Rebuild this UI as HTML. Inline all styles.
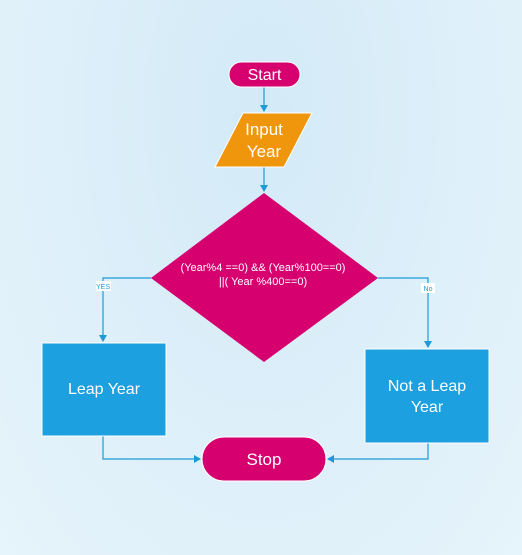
<!DOCTYPE html>
<html><head><meta charset="utf-8"><style>
html,body{margin:0;padding:0;}
body{width:522px;height:555px;overflow:hidden;background:radial-gradient(ellipse at 50% 20%,#d3eaf7 0%,#ddeff9 50%,#e6f4fb 100%);}
svg{display:block}
text{font-family:"Liberation Sans","DejaVu Sans",sans-serif;fill:#fff}
</style></head><body>
<svg width="522" height="555" viewBox="0 0 522 555">
<defs><marker id="a" markerWidth="8" markerHeight="8" refX="6" refY="4" orient="auto" markerUnits="userSpaceOnUse"><path d="M0,0 L7,4 L0,8 z" fill="#1e9bd7"/></marker></defs>
<g stroke="#1e9bd7" stroke-width="1.2" fill="none">
<line x1="264" y1="87" x2="264" y2="111" marker-end="url(#a)"/>
<line x1="264" y1="167" x2="264" y2="191" marker-end="url(#a)"/>
<polyline points="151,278 103,278 103,341" marker-end="url(#a)"/>
<polyline points="378,278 428,278 428,347" marker-end="url(#a)"/>
<polyline points="103,436 103,459 200,459" marker-end="url(#a)"/>
<polyline points="428,443 428,459 328,459" marker-end="url(#a)"/>
</g>
<rect x="96" y="281" width="15" height="10" fill="#fff"/>
<text x="103" y="289" font-size="7" text-anchor="middle" style="fill:#1e9bd7">YES</text>
<rect x="421" y="283" width="14" height="10" fill="#fff"/>
<text x="428" y="291" font-size="7" text-anchor="middle" style="fill:#1e9bd7">No</text>
<rect x="229" y="62" width="71" height="25" rx="12.5" fill="#d6006f" stroke="#fff" stroke-width="1"/>
<text x="264.5" y="80" font-size="16" text-anchor="middle">Start</text>
<polygon points="243,113 312,113 284,167 215,167" fill="#f0960c" stroke="#fff" stroke-width="1"/>
<text x="264" y="135" font-size="17" text-anchor="middle">Input</text>
<text x="264" y="157" font-size="17" text-anchor="middle">Year</text>
<polygon points="264,193 378,278 264,362 151,278" fill="#d6006f"/>
<text x="263" y="271" font-size="11" text-anchor="middle">(Year%4 ==0) &amp;&amp; (Year%100==0)</text>
<text x="263" y="285" font-size="11" text-anchor="middle">||( Year %400==0)</text>
<rect x="42" y="343" width="124" height="93" fill="#1ca0e0" stroke="#fff" stroke-width="1"/>
<text x="104" y="394" font-size="16" text-anchor="middle">Leap Year</text>
<rect x="365" y="349" width="124" height="94" fill="#1ca0e0" stroke="#fff" stroke-width="1"/>
<text x="427" y="391" font-size="16" text-anchor="middle">Not a Leap</text>
<text x="427" y="412" font-size="16" text-anchor="middle">Year</text>
<rect x="202" y="437" width="124" height="44" rx="22" fill="#d6006f" stroke="#fff" stroke-width="1"/>
<text x="264" y="465" font-size="17" text-anchor="middle">Stop</text>
</svg>
</body></html>
